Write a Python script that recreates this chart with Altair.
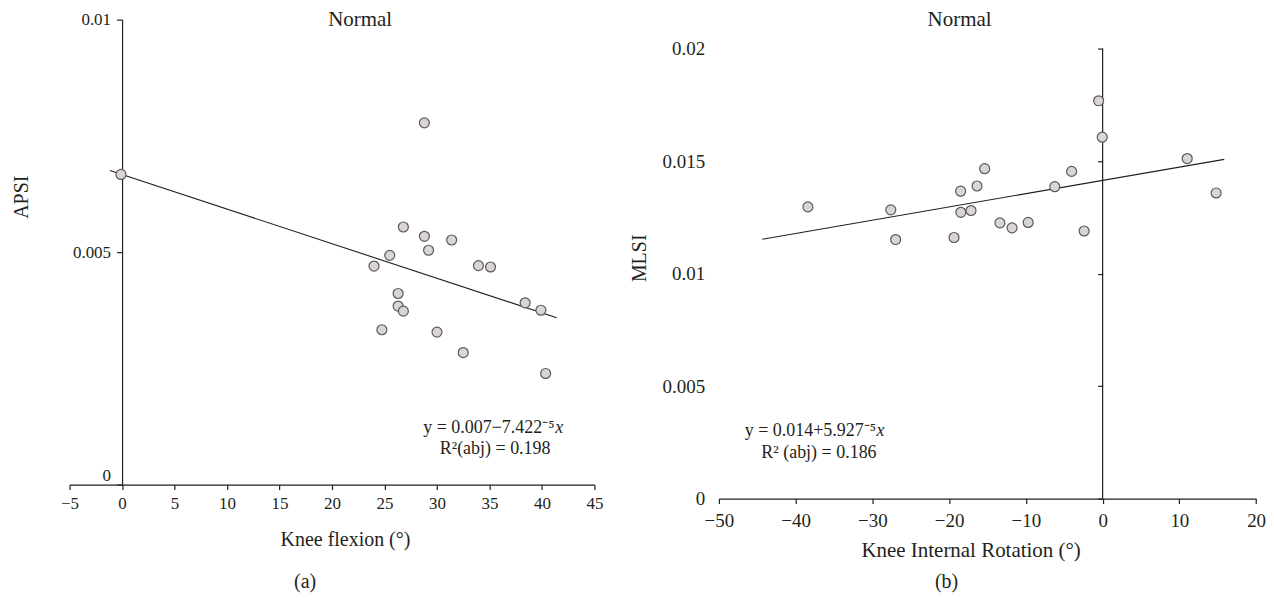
import altair as alt
import pandas as pd

FONT = "Liberation Serif"
INK = "#231f20"
PT_FILL = "#d9d5d5"
PT_STROKE = "#5e5858"

# ---------------- Panel (a): Knee flexion vs APSI ----------------
flex_x = [-0.1, 28.8, 26.8, 28.8, 31.4, 29.2, 25.5, 24.0, 33.95, 35.1,
          26.3, 38.4, 26.3, 26.8, 39.9, 24.75, 30.0, 32.5, 40.35]
apsi_y = [0.00667, 0.00778, 0.00554, 0.00534, 0.00526, 0.00504, 0.00493, 0.00470, 0.00471, 0.00468,
          0.00411, 0.00391, 0.00384, 0.00373, 0.00375, 0.00333, 0.00328, 0.00284, 0.00239]
fit_a_x = [-1.16, 41.4]
fit_a_y = [0.006753, 0.00359]
ticks_a_x = [-5, 0, 5, 10, 15, 20, 25, 30, 35, 40, 45]
ticks_a_y = [0, 0.005, 0.01]

# ---------------- Panel (b): Knee internal rotation vs MLSI ----------------
rot_x = [-38.4, -27.6, -26.97, -19.36, -18.5, -18.47, -17.15, -16.36, -15.37, -13.38,
         -11.8, -9.7, -6.24, -4.04, -2.41, -0.52, -0.05, 11.02, 14.79]
mlsi_y = [0.01297, 0.01284, 0.01152, 0.01161, 0.01367, 0.01273, 0.01281, 0.01390, 0.01467, 0.01226,
          0.01204, 0.01228, 0.01387, 0.01455, 0.01190, 0.01769, 0.01607, 0.01512, 0.01359]
fit_b_x = [-44.34, 15.85]
fit_b_y = [0.011535, 0.015084]
ticks_b_x = [-50, -40, -30, -20, -10, 0, 10, 20]
ticks_b_y = [0, 0.005, 0.01, 0.015, 0.02]
axis_b_span = [0, 0.02]

title_text = "Normal"
eq_a = "y = 0.007\u22127.422\u207b\u2075"
r2_a = "R\u00b2(abj) = 0.198"
eq_b = "y = 0.014+5.927\u207b\u2075"
r2_b = "R\u00b2 (abj) = 0.186"
cap_a = "(a)"
cap_b = "(b)"


def label(text, x, y, size, align="center", style="normal"):
    return alt.Chart(pd.DataFrame({"t": [text]})).mark_text(
        font=FONT, fontSize=size, align=align, baseline="alphabetic",
        color=INK, fontStyle=style
    ).encode(x=alt.value(x), y=alt.value(y), text="t:N")


common_axis = dict(labelFont=FONT, titleFont=FONT, labelColor=INK, titleColor=INK,
                   titleFontWeight="normal", domainColor=INK, tickColor=INK,
                   domainWidth=1.2, tickWidth=1.2, grid=False, labelOverlap=False)

# ---------- left panel ----------
W1, H1 = 526, 466
xa = alt.X("x:Q",
           scale=alt.Scale(domain=[-5, 45], nice=False, zero=False),
           axis=alt.Axis(values=ticks_a_x, title="Knee flexion (°)",
                         tickSize=5, labelPadding=6, labelFontSize=17, labelFlush=False,
                         titleFontSize=20, titleX=276, titleY=61,
                         titleBaseline="alphabetic", titleAlign="center", **common_axis))
ya = alt.Y("y:Q",
           scale=alt.Scale(domain=[0, 0.01], nice=False, zero=False),
           axis=alt.Axis(values=ticks_a_y, format="~g", title="APSI",
                         offset=-52.6, tickSize=5.5, labelPadding=6, labelFontSize=17,
                         labelBaseline={"condition": {"test": "datum.value == 0", "value": "bottom"},
                                        "value": "middle"},
                         titleFontSize=20, titleAngle=270, titleX=-94.7, titleY=177.5,
                         titleBaseline="alphabetic", titleAlign="center", **common_axis))

df_a = pd.DataFrame({"x": flex_x, "y": apsi_y})
fit_a = pd.DataFrame({"x": fit_a_x, "y": fit_a_y})

line_a = alt.Chart(fit_a).mark_line(color=INK, strokeWidth=1.1).encode(x=xa, y=ya)
pts_a = alt.Chart(df_a).mark_circle(size=100, fill=PT_FILL, stroke=PT_STROKE,
                                    strokeWidth=1.2, opacity=1).encode(x=xa, y=ya)

left = alt.layer(
    line_a, pts_a,
    label(title_text, 291.2, 6.8, 21),
    label(eq_a, 486, 414.3, 18, align="right"),
    label("x", 486.7, 414.3, 18, align="left", style="italic"),
    label(r2_a, 426.5, 435.3, 18),
    label(cap_a, 236.1, 570, 20),
).properties(width=W1, height=H1)

# ---------- right panel ----------
W2, H2 = 538.4, 480
xb = alt.X("x:Q",
           scale=alt.Scale(domain=[-50, 20], nice=False, zero=False),
           axis=alt.Axis(values=ticks_b_x, title="Knee Internal Rotation (°)",
                         tickSize=5, labelPadding=8, labelFontSize=19, labelFlush=False,
                         titleFontSize=21, titleX=252.3, titleY=58,
                         titleBaseline="alphabetic", titleAlign="center", **common_axis))
yb = alt.Y("y:Q",
           scale=alt.Scale(domain=[0, 0.0213], nice=False, zero=False),
           axis=alt.Axis(values=ticks_b_y, format="~g", title="MLSI",
                         domain=False, offset=-384.6, tickSize=5, labelPadding=393.8,
                         labelFontSize=19,
                         titleFontSize=20, titleAngle=270, titleX=-458.3, titleY=238.7,
                         titleBaseline="alphabetic", titleAlign="center", **common_axis))

df_b = pd.DataFrame({"x": rot_x, "y": mlsi_y})
fit_b = pd.DataFrame({"x": fit_b_x, "y": fit_b_y})
vline_b = pd.DataFrame({"x": [0], "y": [axis_b_span[0]], "y2": [axis_b_span[1]]})

rule_b = alt.Chart(vline_b).mark_rule(color=INK, strokeWidth=1.2).encode(x=xb, y=yb, y2="y2:Q")
line_b = alt.Chart(fit_b).mark_line(color=INK, strokeWidth=1.1).encode(x=xb, y=yb)
pts_b = alt.Chart(df_b).mark_circle(size=100, fill=PT_FILL, stroke=PT_STROKE,
                                    strokeWidth=1.2, opacity=1).encode(x=xb, y=yb)

right = alt.layer(
    rule_b, line_b, pts_b,
    label(title_text, 241.2, 6.8, 21),
    label(eq_b, 157.4, 417.7, 18, align="right"),
    label("x", 158, 417.7, 18, align="left", style="italic"),
    label(r2_b, 100.3, 439.3, 18),
    label(cap_b, 228.2, 570, 20),
).properties(width=W2, height=H2)

chart = alt.hconcat(left, right, spacing=124.7, bounds="flush").properties(
    padding={"left": 2.7, "top": 0, "right": 0, "bottom": 0}
).configure_view(stroke=None).configure_axis(
    labelFont=FONT, titleFont=FONT, labelColor=INK, titleColor=INK,
    titleFontWeight="normal", domainColor=INK, tickColor=INK
)

chart.save("out.html", embed_options={"renderer": "svg", "actions": False})
